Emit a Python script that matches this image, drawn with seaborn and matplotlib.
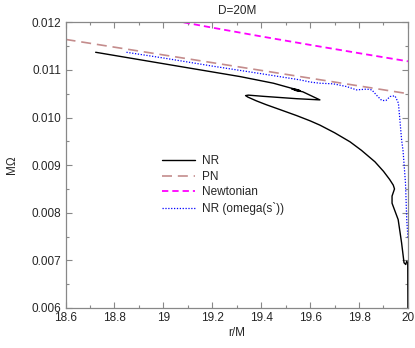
import matplotlib
matplotlib.use("Agg")
import matplotlib.pyplot as plt
from matplotlib.ticker import MultipleLocator, FormatStrFormatter, FuncFormatter
import seaborn as sns
import pandas as pd

# ---- data ----
nr_r = [18.723, 19.0, 19.313, 19.45, 19.52, 19.555, 19.525, 19.56, 19.535, 19.57,
        19.640, 19.545, 19.408, 19.347, 19.336, 19.345, 19.38, 19.42, 19.48, 19.545,
        19.60, 19.64, 19.70, 19.763, 19.81, 19.865, 19.90, 19.925, 19.94, 19.945,
        19.935, 19.935, 19.960, 19.974, 19.984, 19.991, 19.995, 19.999, 20.0]
nr_w = [0.01137, 0.01113, 0.01086, 0.01072, 0.01062, 0.010575, 0.010600, 0.010555, 0.010575, 0.010540,
        0.010370, 0.010395, 0.010445, 0.010470, 0.010460, 0.010430, 0.010350, 0.010270, 0.010160, 0.010040,
        0.009930, 0.009840, 0.009680, 0.009490, 0.009310, 0.009070, 0.008870, 0.008700, 0.008580, 0.008500,
        0.008350, 0.008200, 0.007856, 0.007368, 0.006949, 0.006913, 0.006982, 0.006949, 0.005800]

pn_r = [18.6, 19.0, 19.4, 19.8, 20.0]
pn_w = [0.01164, 0.011314, 0.010989, 0.010663, 0.010500]

newt_r = [19.0, 19.2, 19.4, 19.6, 19.8, 20.0]
newt_w = [0.012076, 0.011887, 0.011703, 0.011525, 0.011351, 0.011180]

om_r = [18.849, 19.0, 19.2, 19.4, 19.559, 19.60, 19.64, 19.695, 19.749, 19.79,
        19.831, 19.852, 19.875, 19.893, 19.910, 19.927, 19.947, 19.961, 19.967,
        19.974, 19.98, 19.99, 19.995, 20.0]
om_w = [0.01137, 0.01125, 0.01108, 0.01092, 0.01079, 0.010745, 0.01072, 0.010707, 0.01065, 0.01058,
        0.010596, 0.010581, 0.01045, 0.010357, 0.010357, 0.010441, 0.010455, 0.010302, 0.009952,
        0.009533, 0.009300, 0.008620, 0.007860, 0.007470]

labels = ["NR", "PN", "Newtonian", "NR (omega(s`))"]

sns.set_style("ticks")
plt.rcParams['font.family'] = ['Liberation Sans', 'DejaVu Sans']
plt.rcParams['font.size'] = 8

fig = plt.figure(figsize=(4.15, 3.48), dpi=100)
ax = fig.add_axes([0.158, 0.115, 0.825, 0.821])

sns.lineplot(x=nr_r, y=nr_w, sort=False, estimator=None, ax=ax, color="black",
             lw=1.0, label=labels[0])
sns.lineplot(x=pn_r, y=pn_w, sort=False, estimator=None, ax=ax, color="#c48c8c",
             lw=1.2, dashes=False, label=labels[1])
ax.lines[-1].set_dashes((6, 3.5))
sns.lineplot(x=newt_r, y=newt_w, sort=False, estimator=None, ax=ax, color="#ff00ff",
             lw=1.3, label=labels[2])
ax.lines[-1].set_dashes((3.5, 2.2))
sns.lineplot(x=om_r, y=om_w, sort=False, estimator=None, ax=ax, color="#0000ff",
             lw=0.9, label=labels[3])
ax.lines[-1].set_dashes((1, 1.3))

ax.set_xlim(18.6, 20.0)
ax.set_ylim(0.006, 0.012)
ax.xaxis.set_major_locator(MultipleLocator(0.2))
ax.xaxis.set_minor_locator(MultipleLocator(0.1))
ax.yaxis.set_major_locator(MultipleLocator(0.001))
ax.yaxis.set_minor_locator(MultipleLocator(0.0005))
ax.xaxis.set_major_formatter(FuncFormatter(lambda v, p: ("%.1f" % v).rstrip('0').rstrip('.')))
ax.yaxis.set_major_formatter(FormatStrFormatter("%.3f"))
ax.tick_params(which='both', direction='in', top=True, right=True, color='#888888',
               labelsize=8.5, pad=3)
ax.tick_params(which='major', length=4, width=0.8)
ax.tick_params(which='minor', length=2.5, width=0.8)
for s in ax.spines.values():
    s.set_color('#888888')
    s.set_linewidth(0.9)

ax.set_title("D=20M", fontsize=8.5, pad=6)
ax.set_xlabel("r/M", fontsize=8.5, labelpad=2)
ax.set_ylabel("MΩ", fontsize=8.5, labelpad=10)

leg = ax.legend(loc='center left', bbox_to_anchor=(0.25, 0.43), frameon=False,
                fontsize=8.5, handlelength=2.8, handletextpad=0.6, labelspacing=0.3)

fig.savefig("out.png", dpi=100)
